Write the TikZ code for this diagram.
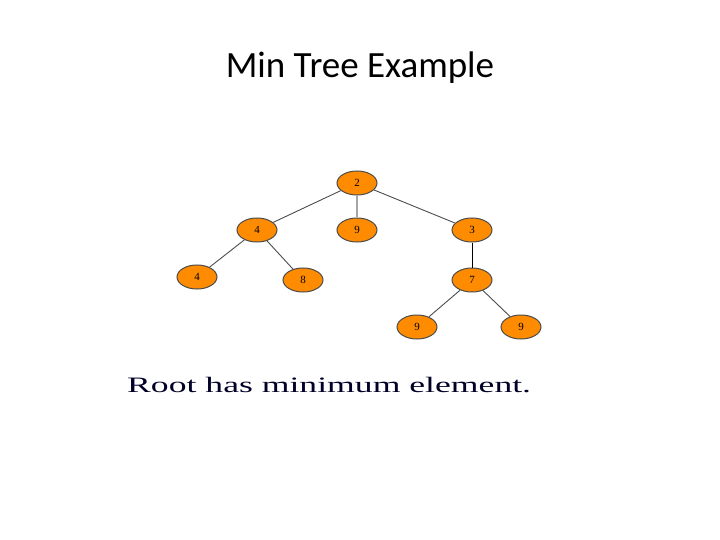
\documentclass[tikz,border=0pt]{standalone}
\usepackage{fontspec}
\usepackage{graphicx}
\setmainfont{Liberation Serif}
\newfontfamily\titlefont{Carlito}
\usetikzlibrary{shapes.geometric}
\begin{document}
\begin{tikzpicture}[x=1pt, y=-1pt,
        elem/.style={ellipse, draw=black!70, fill=orange!90!yellow, line width=1pt,
            minimum width=40pt, minimum height=24pt, inner sep=0pt, font=\fontsize{11}{11}\selectfont},
        edge/.style={draw=black!70, line width=0.9pt}
    ]
        \useasboundingbox (0,0) rectangle (720,540);

        % Title
        \node[font=\titlefont\fontsize{37}{37}\selectfont] (title) at (360,68) {Min Tree Example};

        % Tree
        \node[elem] (r) at (357,183) {2};
        \node[elem] (a) at (257,230) {4};
        \node[elem] (b) at (357,230) {9};
        \node[elem] (c) at (472,230) {3};
        \node[elem] (a1) at (197,277) {4};
        \node[elem] (a2) at (303,280) {8};
        \node[elem] (c1) at (472,280) {7};
        \node[elem] (d1) at (417,327) {9};
        \node[elem] (d2) at (521,327) {9};

        % Edges
        \draw[edge] (r) -- (a);
        \draw[edge, draw=black!35, line width=2.5pt] (r) -- (b);
        \draw[edge] (r) -- (c);
        \draw[edge] (a) -- (a1);
        \draw[edge] (a) -- (a2);
        \draw[edge, draw=black] (c) -- (c1);
        \draw[edge] (c1) -- (d1);
        \draw[edge] (c1) -- (d2);

        % Caption
        \node[anchor=west, inner sep=0pt, font=\fontsize{22}{22}\selectfont, text=black!85!blue] (cap) at (127,385)
            {\scalebox{1.62}[1]{Root has minimum element.}};
\end{tikzpicture}
\end{document}
